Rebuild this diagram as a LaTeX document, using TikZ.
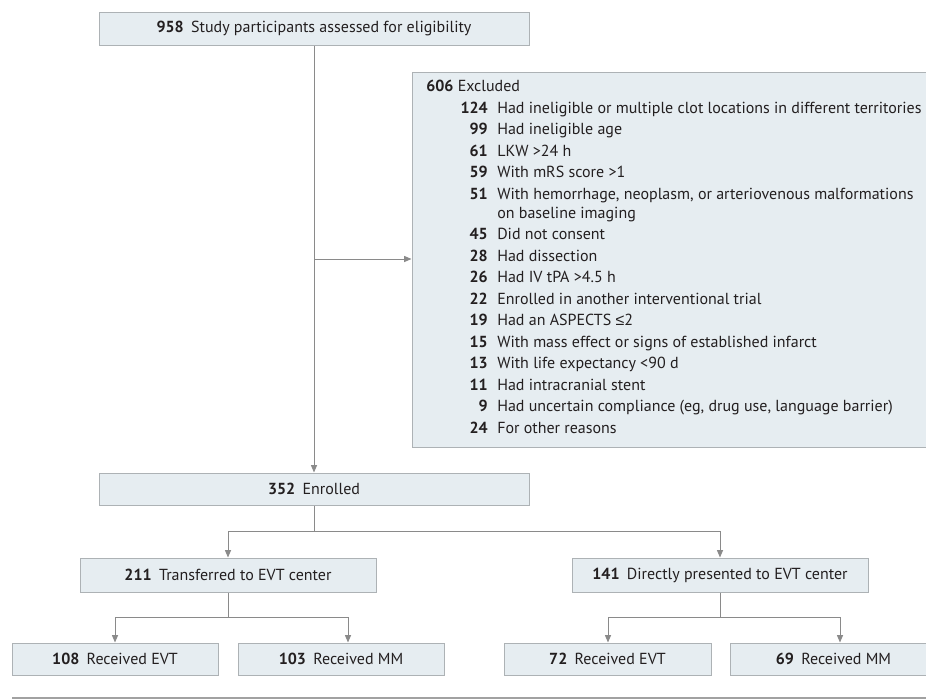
\documentclass[tikz,border=0pt]{standalone}
\usepackage{fontspec}
\setmainfont{PT Sans}
\newfontfamily\symfont{Liberation Sans}
\usetikzlibrary{arrows.meta}
\definecolor{boxfill}{HTML}{E6EDF1}
\definecolor{boxline}{HTML}{ADB2B5}
\definecolor{connc}{HTML}{8A8A8A}
\definecolor{txt}{HTML}{231F20}
\newcommand{\gp}{\hspace{5.5pt}}
\begin{document}
\begin{tikzpicture}[x=0.75pt,y=-0.75pt,
  font=\fontsize{12}{14.4}\selectfont,
  box/.style={draw=boxline, fill=boxfill, line width=0.75pt, inner sep=0pt, align=center, text=txt},
  conn/.style={draw=connc, line width=0.75pt},
  arr/.style={conn, -{Triangle[length=5.5pt,width=4.5pt]}},
  num/.style={anchor=mid east, inner sep=0pt, text=txt, font=\fontsize{12}{14.4}\selectfont\bfseries},
  lab/.style={anchor=mid west, inner sep=0pt, text=txt}]
\useasboundingbox (0,0) rectangle (926,700);
\clip (0,0) rectangle (926,700);
% boxes
\node[box, minimum width=322.5pt, minimum height=24.75pt] (top) at (314,28.5) {\textbf{958}\gp Study participants assessed for eligibility};
\node[box, minimum width=393.75pt, minimum height=281.25pt] (excl) at (674.5,259.5) {};
\node[box, minimum width=322.5pt, minimum height=24pt] (enr) at (314,489) {\textbf{352}\gp Enrolled};
\node[box, minimum width=222pt, minimum height=25.5pt] (tr) at (228,575) {\textbf{211}\gp Transferred to EVT center};
\node[box, minimum width=222pt, minimum height=25.5pt] (dp) at (720,575) {\textbf{141}\gp Directly presented to EVT center};
\node[box, minimum width=154.5pt, minimum height=24pt] (a1) at (115,659) {\textbf{108}\gp Received EVT};
\node[box, minimum width=154.5pt, minimum height=24pt] (a2) at (341,659) {\textbf{103}\gp Received MM};
\node[box, minimum width=155.25pt, minimum height=24pt] (b1) at (607.5,659) {\textbf{72}\gp Received EVT};
\node[box, minimum width=155.25pt, minimum height=24pt] (b2) at (833.5,659) {\textbf{69}\gp Received MM};
% excluded text
\node[lab] (e0) at (426,88) {\textbf{606} Excluded};
\node[num] (n1) at (488,110) {124};   \node[lab] (t1) at (497,110) {Had ineligible or multiple clot locations in different territories};
\node[num] (n2) at (488,131.5) {99};  \node[lab] (t2) at (497,131.5) {Had ineligible age};
\node[num] (n3) at (488,153) {61};    \node[lab] (t3) at (497,153) {LKW >24 h};
\node[num] (n4) at (488,174.5) {59};  \node[lab] (t4) at (497,174.5) {With mRS score >1};
\node[num] (n5) at (488,196) {51};    \node[lab] (t5) at (497,196) {With hemorrhage, neoplasm, or arteriovenous malformations};
\node[lab] (t5b) at (497,215) {on baseline imaging};
\node[num] (n6) at (488,236.5) {45};  \node[lab] (t6) at (497,236.5) {Did not consent};
\node[num] (n7) at (488,258) {28};    \node[lab] (t7) at (497,258) {Had dissection};
\node[num] (n8) at (488,279.5) {26};  \node[lab] (t8) at (497,279.5) {Had IV tPA >4.5 h};
\node[num] (n9) at (488,301) {22};    \node[lab] (t9) at (497,301) {Enrolled in another interventional trial};
\node[num] (n10) at (488,322.5) {19}; \node[lab] (t10) at (497,322.5) {Had an ASPECTS {\symfont ≤}2};
\node[num] (n11) at (488,344) {15};   \node[lab] (t11) at (497,344) {With mass effect or signs of established infarct};
\node[num] (n12) at (488,365.5) {13}; \node[lab] (t12) at (497,365.5) {With life expectancy <90 d};
\node[num] (n13) at (488,387) {11};   \node[lab] (t13) at (497,387) {Had intracranial stent};
\node[num] (n14) at (488,408.5) {9};  \node[lab] (t14) at (497,408.5) {Had uncertain compliance (eg, drug use, language barrier)};
\node[num] (n15) at (488,430) {24};   \node[lab] (t15) at (497,430) {For other reasons};
% connectors
\coordinate (sp) at (314,259);
\draw[arr] (top.south) -- (enr.north);
\draw[arr] (sp) -- (sp -| excl.west);
\coordinate (j1) at (314,531);
\draw[conn] (enr.south) -- (j1);
\draw[arr] (j1) -| (tr.north);
\draw[arr] (j1) -| (dp.north);
\coordinate (j2) at (228,617);
\coordinate (j2l) at (115,617);
\coordinate (j2r) at (348,617);
\draw[conn] (tr.south) -- (j2);
\draw[conn] (j2l) -- (j2r);
\draw[arr] (j2l) -- (j2l |- a1.north);
\draw[arr] (j2r) -- (j2r |- a2.north);
\coordinate (j3) at (720,617);
\coordinate (j3l) at (608,617);
\coordinate (j3r) at (840,617);
\draw[conn] (dp.south) -- (j3);
\draw[conn] (j3l) -- (j3r);
\draw[arr] (j3l) -- (j3l |- b1.north);
\draw[arr] (j3r) -- (j3r |- b2.north);
% bottom rule
\coordinate (r1) at (12,698);
\coordinate (r2) at (926,698);
\draw[draw=connc!80, line width=1.5pt] (r1) -- (r2);
\end{tikzpicture}
\end{document}
